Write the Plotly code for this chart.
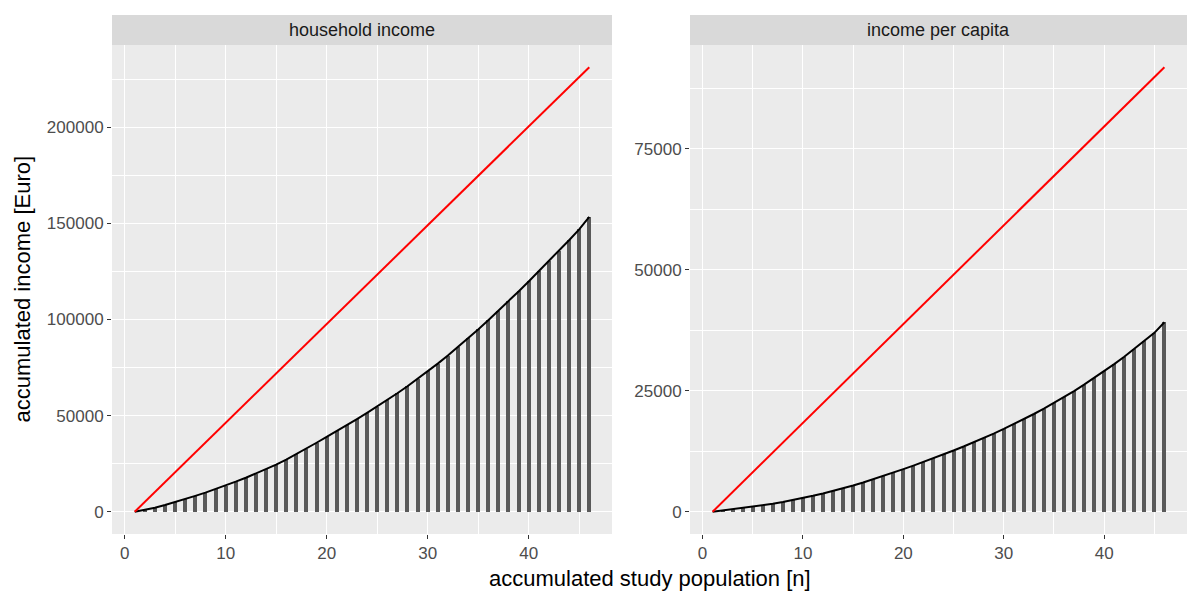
import plotly.graph_objects as go

# ---------------- data ----------------
n = list(range(1, 47))

household_income = [
    0, 900, 2100, 3500, 5000, 6600, 8250, 9950, 11750, 13650,
    15650, 17700, 19850, 22100, 24500, 27100, 29900, 32900, 35900, 38900,
    41900, 45000, 48200, 51450, 54750, 58150, 61650, 65250, 69050, 73000,
    77050, 81250, 85650, 90150, 94800, 99600, 104500, 109500, 114600, 119800,
    125050, 130350, 135750, 141250, 146850, 153350,
]

income_per_capita = [
    0, 280, 500, 740, 1020, 1320, 1660, 2020, 2400, 2830,
    3290, 3780, 4300, 4850, 5430, 6050, 6700, 7380, 8080, 8800,
    9530, 10280, 11050, 11840, 12650, 13480, 14340, 15230, 16150, 17100,
    18090, 19120, 20190, 21300, 22460, 23670, 24930, 26240, 27600, 29010,
    30480, 32010, 33600, 35250, 36950, 39150,
]

equal_x = [1, 46]
household_equal = [0, 231200]
per_capita_equal = [0, 91800]

panel_titles = ["household income", "income per capita"]
x_ticks = [0, 10, 20, 30, 40]
y_ticks_left = [0, 50000, 100000, 150000, 200000]
y_ticks_right = [0, 25000, 50000, 75000]

# ---------------- figure ----------------
W, H = 1190, 593
ML, MR, MT, MB = 112, 3, 45, 59
pw = W - ML - MR
ph = H - MT - MB

left_dom = [0, (612 - ML) / pw]
right_dom = [(690 - ML) / pw, 1]

fig = go.Figure()

BAR_COL = "#595959"
FONT = "Liberation Sans, Arial, sans-serif"

def add_panel(xa, ya, vals, eq):
    fig.add_trace(go.Bar(x=n, y=vals, width=0.4, marker=dict(color=BAR_COL, line=dict(width=0)),
                         xaxis=xa, yaxis=ya, showlegend=False, hoverinfo="x+y"))
    fig.add_trace(go.Scatter(x=n, y=vals, mode="lines", line=dict(color="black", width=2),
                             xaxis=xa, yaxis=ya, showlegend=False))
    fig.add_trace(go.Scatter(x=equal_x, y=eq, mode="lines", line=dict(color="#FF0000", width=2),
                             xaxis=xa, yaxis=ya, showlegend=False))

add_panel("x", "y", household_income, household_equal)
add_panel("x2", "y2", income_per_capita, per_capita_equal)

def xr(vals):
    lo, hi = min(vals), max(vals)
    d = (hi - lo) * 0.05
    return [lo - d, hi + d]

x_range = xr(n)
yl = xr(household_income + household_equal)
yr = xr(income_per_capita + per_capita_equal)

axis_common = dict(
    showline=False, zeroline=False, ticks="outside", ticklen=4, tickwidth=1,
    tickcolor="#333333", showgrid=True, gridcolor="white", gridwidth=1.3,
    tickfont=dict(family=FONT, size=17, color="#4D4D4D"),
)

fig.update_layout(
    width=W, height=H,
    margin=dict(l=ML, r=MR, t=MT, b=MB),
    paper_bgcolor="white", plot_bgcolor="#EBEBEB",
    bargap=0, barmode="overlay",
    xaxis=dict(domain=left_dom, range=x_range, tickvals=x_ticks, anchor="y",
               minor=dict(showgrid=True, gridcolor="white", gridwidth=0.6, dtick=5, tick0=0),
               **axis_common),
    xaxis2=dict(domain=right_dom, range=x_range, tickvals=x_ticks, anchor="y2",
                minor=dict(showgrid=True, gridcolor="white", gridwidth=0.6, dtick=5, tick0=0),
                **axis_common),
    yaxis=dict(domain=[0, 1], range=yl, tickvals=y_ticks_left, anchor="x",
               tickformat="d",
               minor=dict(showgrid=True, gridcolor="white", gridwidth=0.6, dtick=25000, tick0=25000),
               **axis_common),
    yaxis2=dict(domain=[0, 1], range=yr, tickvals=y_ticks_right, anchor="x2",
                tickformat="d",
                minor=dict(showgrid=True, gridcolor="white", gridwidth=0.6, dtick=12500, tick0=12500),
                **axis_common),
    showlegend=False,
)

strip_top = 1 + (MT - 15) / ph
shapes = []
annotations = []
for dom, title in zip([left_dom, right_dom], panel_titles):
    shapes.append(dict(type="rect", xref="paper", yref="paper", x0=dom[0], x1=dom[1],
                       y0=1, y1=strip_top, fillcolor="#D9D9D9", line=dict(width=0), layer="below"))
    annotations.append(dict(text=title, xref="paper", yref="paper", x=(dom[0] + dom[1]) / 2,
                            y=(1 + strip_top) / 2, showarrow=False, xanchor="center", yanchor="middle",
                            font=dict(family=FONT, size=18, color="#1A1A1A")))

annotations.append(dict(text="accumulated study population [n]", xref="paper", yref="paper",
                        x=0.5, y=-(578 - (MT + ph)) / ph, showarrow=False,
                        xanchor="center", yanchor="middle",
                        font=dict(family=FONT, size=22, color="black")))
annotations.append(dict(text="accumulated income [Euro]", xref="paper", yref="paper",
                        x=-(ML - 22) / pw, y=0.5, showarrow=False, textangle=-90,
                        xanchor="center", yanchor="middle",
                        font=dict(family=FONT, size=22, color="black")))

fig.update_layout(shapes=shapes, annotations=annotations)

fig.write_html("out.html")
